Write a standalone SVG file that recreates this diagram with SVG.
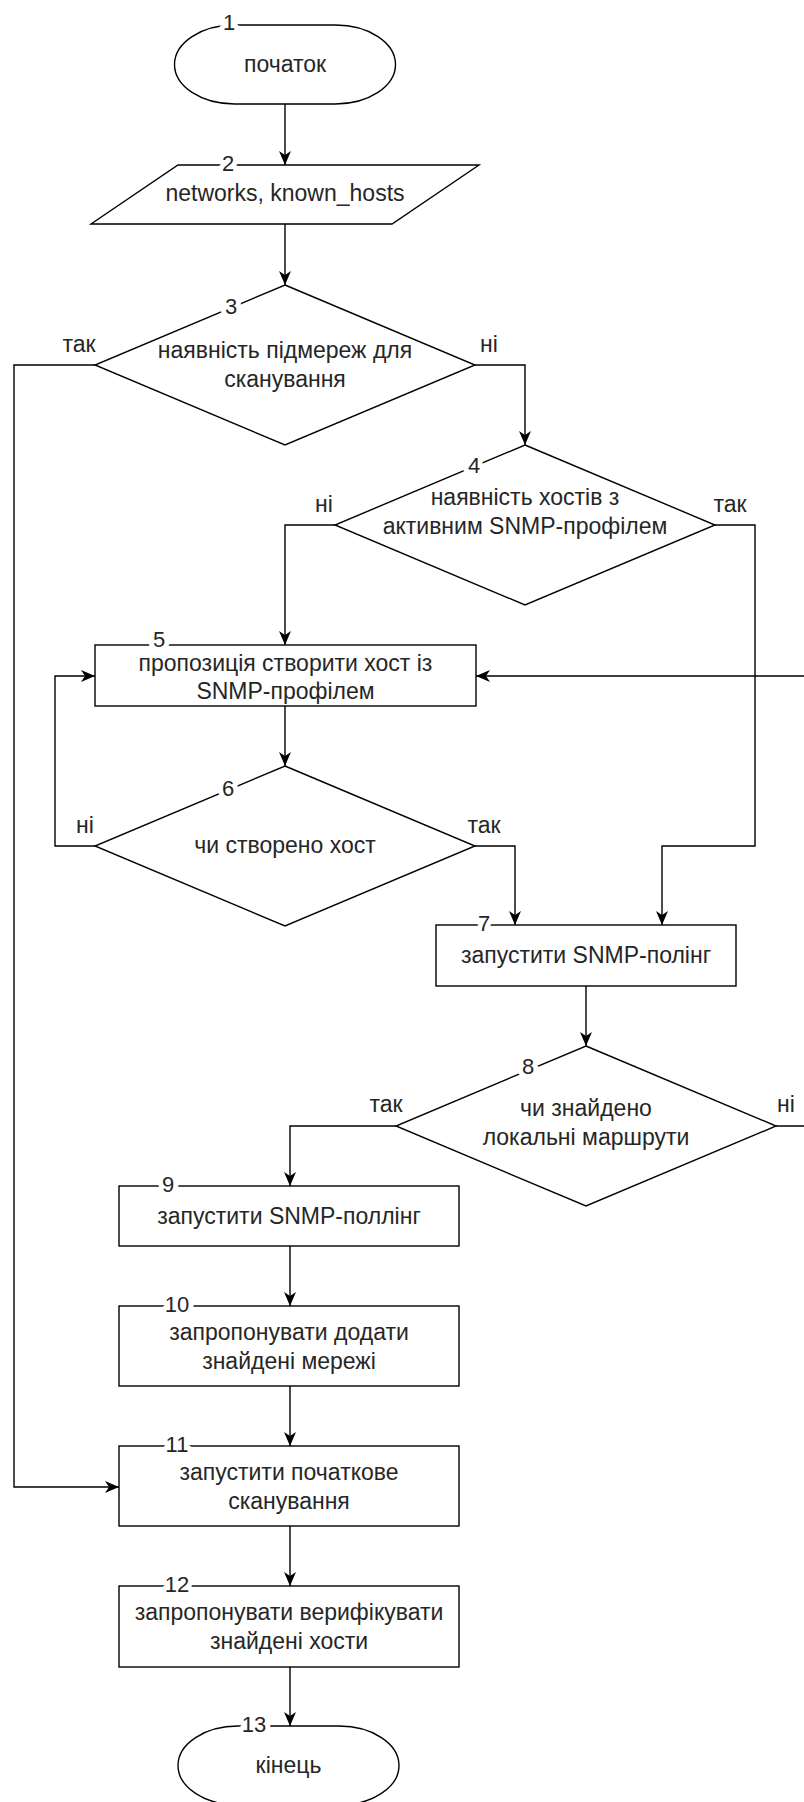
<svg xmlns="http://www.w3.org/2000/svg" width="804" height="1802" viewBox="0 0 804 1802">
  <style>
    .shape { fill: #ffffff; stroke: #000000; stroke-width: 1.4; }
    .edge { fill: none; stroke: #000000; stroke-width: 1.4; marker-end: url(#arrow); }
    text { font-family: "Liberation Sans", Arial, sans-serif; fill: #262626; }
    .txt { font-size: 23px; text-anchor: middle; }
    .num { font-size: 22px; text-anchor: middle; stroke: #ffffff; stroke-width: 10; paint-order: stroke; stroke-linejoin: round; }
    .branch { font-size: 23px; text-anchor: middle; }
  </style>
  <defs>
    <marker id="arrow" markerUnits="userSpaceOnUse" markerWidth="14" markerHeight="12" refX="14" refY="6" orient="auto">
      <path d="M0,0 L14,6 L0,12 L4,6 Z" fill="#000000"/>
    </marker>
  </defs>
  <rect width="804" height="1802" fill="#ffffff"/>

  <!-- connectors -->
  <g id="connectors">
    <path class="edge" d="M285,104 V165"/>
    <path class="edge" d="M285,224 V285"/>
    <path class="edge" d="M95,365 H14 V1487 H119"/>
    <path class="edge" d="M475,365 H525 V445"/>
    <path class="edge" d="M335,525 H285 V645"/>
    <path class="edge" d="M715,525 H755 V846 H662 V925"/>
    <path class="edge" d="M285,706 V766"/>
    <path class="edge" d="M95,846 H55 V676 H95"/>
    <path class="edge" d="M475,846 H515 V925"/>
    <path class="edge" d="M586,986 V1046"/>
    <path class="edge" d="M396,1126 H290 V1186"/>
    <path class="edge" d="M776,1126 H830 V676 H476"/>
    <path class="edge" d="M290,1246 V1306"/>
    <path class="edge" d="M290,1386 V1446"/>
    <path class="edge" d="M290,1526 V1586"/>
    <path class="edge" d="M290,1667 V1726"/>
    <!-- branch captions -->
    <text class="branch" x="79" y="352">так</text>
    <text class="branch" x="489" y="352">ні</text>
    <text class="branch" x="324" y="512">ні</text>
    <text class="branch" x="730" y="512">так</text>
    <text class="branch" x="85" y="833">ні</text>
    <text class="branch" x="484" y="833">так</text>
    <text class="branch" x="386" y="1112">так</text>
    <text class="branch" x="786" y="1112">ні</text>
  </g>

  <!-- 1: start -->
  <g id="n1">
    <rect class="shape" x="174.5" y="25" width="221" height="79" rx="60" ry="39.5"/>
    <text class="txt" x="285" y="72">початок</text>
    <text class="num" x="229" y="30">1</text>
  </g>

  <!-- 2: input data -->
  <g id="n2">
    <polygon class="shape" points="178,165 479,165 392,224 91,224"/>
    <text class="txt" x="285" y="201">networks, known_hosts</text>
    <text class="num" x="228" y="171">2</text>
  </g>

  <!-- 3: subnets available? -->
  <g id="n3">
    <polygon class="shape" points="285,285 475,365 285,445 95,365"/>
    <text class="txt" x="285" y="358">наявність підмереж для</text>
    <text class="txt" x="285" y="387">сканування</text>
    <text class="num" x="231" y="314">3</text>
  </g>

  <!-- 4: hosts with SNMP profile? -->
  <g id="n4">
    <polygon class="shape" points="525,445 715,525 525,605 335,525"/>
    <text class="txt" x="525" y="505">наявність хостів з</text>
    <text class="txt" x="525" y="534">активним SNMP-профілем</text>
    <text class="num" x="474" y="473">4</text>
  </g>

  <!-- 5: offer to create host -->
  <g id="n5">
    <rect class="shape" x="95" y="645" width="381" height="61"/>
    <text class="txt" x="285.5" y="671">пропозиція створити хост із</text>
    <text class="txt" x="285.5" y="699">SNMP-профілем</text>
    <text class="num" x="159" y="647">5</text>
  </g>

  <!-- 6: host created? -->
  <g id="n6">
    <polygon class="shape" points="285,766 475,846 285,926 95,846"/>
    <text class="txt" x="285" y="853">чи створено хост</text>
    <text class="num" x="228" y="796">6</text>
  </g>

  <!-- 7: SNMP polling -->
  <g id="n7">
    <rect class="shape" x="436" y="925" width="300" height="61"/>
    <text class="txt" x="586" y="963">запустити SNMP-полінг</text>
    <text class="num" x="484" y="931">7</text>
  </g>

  <!-- 8: local routes found? -->
  <g id="n8">
    <polygon class="shape" points="586,1046 776,1126 586,1206 396,1126"/>
    <text class="txt" x="586" y="1116">чи знайдено</text>
    <text class="txt" x="586" y="1145">локальні маршрути</text>
    <text class="num" x="528" y="1074">8</text>
  </g>

  <!-- 9: SNMP polling -->
  <g id="n9">
    <rect class="shape" x="119" y="1186" width="340" height="60"/>
    <text class="txt" x="289" y="1224">запустити SNMP-поллінг</text>
    <text class="num" x="168" y="1192">9</text>
  </g>

  <!-- 10: offer to add networks -->
  <g id="n10">
    <rect class="shape" x="119" y="1306" width="340" height="80"/>
    <text class="txt" x="289" y="1340">запропонувати додати</text>
    <text class="txt" x="289" y="1369">знайдені мережі</text>
    <text class="num" x="177" y="1312">10</text>
  </g>

  <!-- 11: initial scan -->
  <g id="n11">
    <rect class="shape" x="119" y="1446" width="340" height="80"/>
    <text class="txt" x="289" y="1480">запустити початкове</text>
    <text class="txt" x="289" y="1509">сканування</text>
    <text class="num" x="177" y="1452">11</text>
  </g>

  <!-- 12: verify hosts -->
  <g id="n12">
    <rect class="shape" x="119" y="1586" width="340" height="81"/>
    <text class="txt" x="289" y="1620">запропонувати верифікувати</text>
    <text class="txt" x="289" y="1649">знайдені хости</text>
    <text class="num" x="177" y="1592">12</text>
  </g>

  <!-- 13: end -->
  <g id="n13">
    <rect class="shape" x="178" y="1726" width="221" height="79" rx="60" ry="39.5"/>
    <text class="txt" x="288.5" y="1773">кінець</text>
    <text class="num" x="254" y="1732">13</text>
  </g>
</svg>
